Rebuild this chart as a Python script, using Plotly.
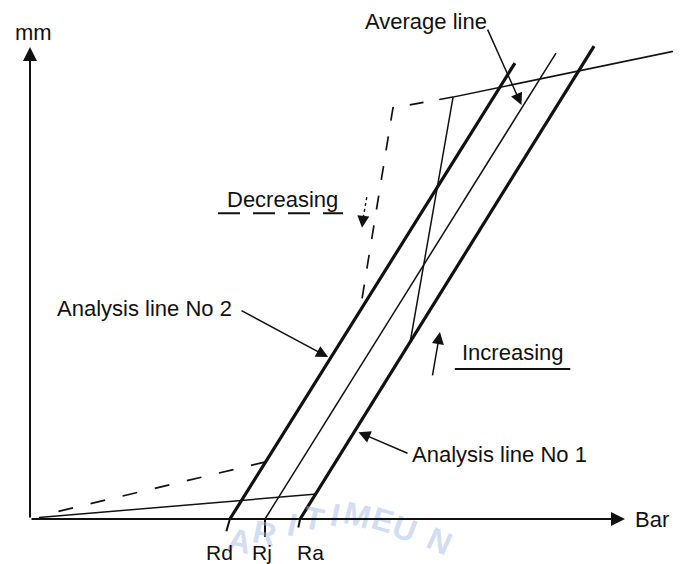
import plotly.graph_objects as go

# ---- schematic data (x in "Bar" units, y in "mm" units; both axes 0..100) ----
axis_x_end = 100
axis_y_end = 100

line2_x = [33.6, 81.5]          # Analysis line No 2 (thick)
line2_y = [0.0, 96.6]
avg_x = [39.5, 88.4]            # Average line (thin)
avg_y = [0.0, 98.7]
line1_x = [45.4, 94.8]          # Analysis line No 1 (thick)
line1_y = [0.0, 100.2]

rd_tick_x = [33.6, 33.0]
rd_tick_y = [0.0, -2.6]
rj_tick_x = [39.5, 39.5]
rj_tick_y = [0.0, -3.8]
ra_tick_x = [45.4, 45.1]
ra_tick_y = [0.0, -1.8]

inc_low_x = [1.5, 48.2]         # increasing path (solid thin)
inc_low_y = [0.3, 5.3]
inc_up_x = [63.9, 71.1, 112.0]
inc_up_y = [37.5, 89.4, 100.1]

dec_up_x = [71.1, 61.0, 55.5]   # decreasing path (dashed)
dec_up_y = [89.4, 87.1, 44.3]
dec_low_x = [39.6, 3.7]
dec_low_y = [12.1, 1.3]

dec_arrow_x = [56.6, 56.0]      # dotted "decreasing" arrow
dec_arrow_y = [68.2, 63.8]

dec_ul_x = [31.6, 52.6]         # dashed underline under "Decreasing"
dec_ul_y = [64.8, 64.8]
inc_ul_x = [71.4, 90.8]         # underline under "Increasing"
inc_ul_y = [31.8, 31.8]

r_labels = ["Rd", "Rj", "Ra"]
r_label_x = [31.9, 39.0, 47.1]
r_label_y = [-7.0, -7.0, -7.0]

wm_letters = ["A", "R", "I", "T", "I", "M", "E", "U", "N"]
wm_x = [35.2, 39.4, 44.1, 47.8, 51.4, 55.0, 59.2, 63.0, 68.8]
wm_y = [-4.6, -2.9, -1.2, 0.0, 0.8, 0.8, -0.3, -2.2, -4.6]
wm_angle = [12, 12, 12, 12, 12, 14, 16, 20, 24]

FONT = "Liberation Sans, Arial, sans-serif"
INK = "#111111"

fig = go.Figure()

anns = []

# watermark (faint, behind everything: added as annotations first)
for ch, wx, wy, wa in zip(wm_letters, wm_x, wm_y, wm_angle):
    anns.append(dict(x=wx, y=wy, xref="x", yref="y", text="<b>" + ch + "</b>",
                     showarrow=False, textangle=wa,
                     font=dict(family="Liberation Sans Narrow, Liberation Sans, Arial, sans-serif",
                               size=32, color="rgba(165,188,230,0.5)")))


def seg(x, y, w, dash="solid", color=INK):
    fig.add_trace(go.Scatter(x=x, y=y, mode="lines",
                             line=dict(color=color, width=w, dash=dash),
                             hoverinfo="skip", showlegend=False))

seg(line2_x, line2_y, 3.2)
seg(avg_x, avg_y, 1.5)
seg(line1_x, line1_y, 3.2)
seg(rd_tick_x, rd_tick_y, 2.0)
seg(rj_tick_x, rj_tick_y, 2.0)
seg(ra_tick_x, ra_tick_y, 2.0)
seg(inc_low_x, inc_low_y, 1.5)
seg(inc_up_x, inc_up_y, 1.5)
seg(dec_up_x, dec_up_y, 1.7, dash="14px,16px")
seg(dec_low_x, dec_low_y, 1.7, dash="15px,18px")
seg(dec_arrow_x, dec_arrow_y, 1.4, dash="dot")
seg(dec_ul_x, dec_ul_y, 2.0, dash="22px,13px")
seg(inc_ul_x, inc_ul_y, 2.0)


def arrow(hx, hy, tx, ty, w=1.5, size=1.6):
    anns.append(dict(x=hx, y=hy, ax=tx, ay=ty, xref="x", yref="y",
                     axref="x", ayref="y", showarrow=True, arrowhead=2,
                     arrowsize=size, arrowwidth=w, arrowcolor=INK,
                     standoff=0, text=""))


def label(x, y, t, size=22, anchor="left"):
    anns.append(dict(x=x, y=y, xref="x", yref="y", text=t, showarrow=False,
                     xanchor=anchor, yanchor="middle",
                     font=dict(family=FONT, size=size, color=INK)))

# axes with arrowheads
arrow(0, axis_y_end, 0, 0, w=2.0, size=1.4)
arrow(axis_x_end, 0, 0, 0, w=2.0, size=1.4)

# pointer arrows
arrow(82.6, 87.7, 76.8, 104.0)        # Average line
arrow(50.1, 34.3, 35.3, 44.3)         # Analysis line No 2
arrow(55.2, 18.4, 63.7, 13.8)         # Analysis line No 1
arrow(68.9, 39.6, 67.6, 30.1)         # Increasing
arrow(55.8, 61.7, 56.0, 64.0)         # Decreasing (head)

label(-2.9, 103.0, "mm")
label(101.3, -0.2, "Bar")
label(56.0, 105.5, "Average line")
label(4.2, 44.7, "Analysis line No 2")
label(32.8, 67.6, "Decreasing")
label(72.3, 35.2, "Increasing")
label(63.9, 13.6, "Analysis line No 1")
for t, lx, ly in zip(r_labels, r_label_x, r_label_y):
    label(lx, ly, t, size=21, anchor="center")

# page body has an 8px margin: ranges are set so the drawing lands where the reference has it
fig.update_layout(
    width=681, height=564,
    margin=dict(l=0, r=0, t=0, b=0),
    paper_bgcolor="white", plot_bgcolor="white",
    showlegend=False,
    xaxis=dict(range=[-3.697, 110.756], visible=False, fixedrange=True),
    yaxis=dict(range=[-11.229, 108.263], visible=False, fixedrange=True),
    annotations=anns,
)

fig.write_html("out.html")
